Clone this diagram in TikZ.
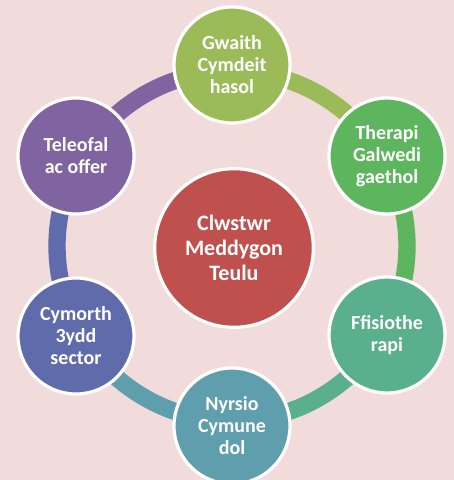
\documentclass[tikz,border=0pt]{standalone}
\usepackage{fontspec}
\setmainfont{Carlito}
\definecolor{bg}{HTML}{F2DCDB}
\definecolor{cred}{HTML}{C0504D}
\definecolor{colive}{HTML}{9BBB59}
\definecolor{cgreen}{HTML}{5DB55E}
\definecolor{cseag}{HTML}{5AB08C}
\definecolor{cteal}{HTML}{5F9EAC}
\definecolor{cblue}{HTML}{5F6BAA}
\definecolor{cpurp}{HTML}{8064A2}
\begin{document}
\begin{tikzpicture}[x=0.75pt,y=0.75pt,
  outer/.style={circle,draw=white,line width=2.4pt,minimum size=87pt,inner sep=0pt,
    text=white,font=\fontsize{15}{16.5}\selectfont\bfseries,align=center},
  ring/.style={line width=13pt}]
\fill[bg] (0,0) rectangle (454,480);
\useasboundingbox (0,0) rectangle (454,480);
\coordinate (rc) at (232,234);
% ring arcs
\draw[ring,cpurp] ([shift={(rc)}]90:175) arc (90:150:175);
\draw[ring,cblue] ([shift={(rc)}]150:175) arc (150:210:175);
\draw[ring,cteal] ([shift={(rc)}]210:175) arc (210:270:175);
\draw[ring,cseag] ([shift={(rc)}]270:175) arc (270:330:175);
\draw[ring,cgreen] ([shift={(rc)}]330:175) arc (330:390:175);
\draw[ring,colive] ([shift={(rc)}]30:175) arc (30:90:175);
% nodes
\node[outer,fill=colive] (gw) at (232,415) {Gwaith\\Cymdeit\\hasol};
\node[outer,fill=cgreen] (th) at (387,324) {Therapi\\Galwedi\\gaethol};
\node[outer,fill=cseag] (ff) at (387,145) {Ffisiothe\\rapi};
\node[outer,fill=cteal] (ny) at (232,54) {Nyrsio\\Cymune\\dol};
\node[outer,fill=cblue] (cy) at (76,144) {Cymorth\\3ydd\\sector};
\node[outer,fill=cpurp] (te) at (76,324) {Teleofal\\ac offer};
\node[outer,fill=cred,minimum size=119pt,font=\fontsize{16.5}{19}\selectfont\bfseries] (cl) at (234,232) {Clwstwr\\Meddygon\\Teulu};
\end{tikzpicture}
\end{document}
